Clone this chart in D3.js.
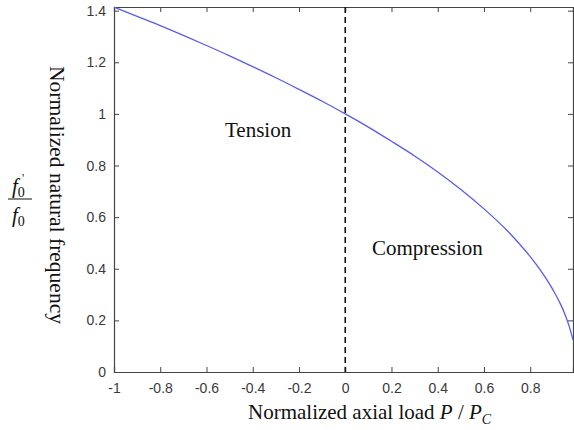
<!DOCTYPE html>
<html>
<head>
<meta charset="utf-8">
<script src="https://cdn.jsdelivr.net/npm/d3@7"></script>
<style>
  body { margin: 0; background: #fff; }
  .tick text { font-family: "Liberation Sans", Arial, sans-serif; font-size: 14px; fill: #3a3a3a; }
  .axis path, .axis line { stroke: #444; }
  .serif { font-family: "Liberation Serif", "Times New Roman", serif; fill: #111; }
</style>
</head>
<body>
<div id="chart"></div>
<script>
// curve points (P/Pc, f0'/f0)
const loadRatio = [-1, -0.9, -0.8, -0.7, -0.6, -0.5, -0.4, -0.3, -0.2, -0.1, 0, 0.1, 0.2, 0.3, 0.4, 0.5, 0.6, 0.7, 0.75, 0.8, 0.85, 0.9, 0.93, 0.95, 0.97, 0.985];
const freqRatio = [1.414, 1.378, 1.342, 1.304, 1.265, 1.225, 1.183, 1.140, 1.095, 1.049, 1.0, 0.949, 0.894, 0.837, 0.775, 0.707, 0.632, 0.548, 0.5, 0.447, 0.387, 0.316, 0.265, 0.224, 0.173, 0.125];

const xTicks = [-1, -0.8, -0.6, -0.4, -0.2, 0, 0.2, 0.4, 0.6, 0.8];
const yTicks = [0, 0.2, 0.4, 0.6, 0.8, 1, 1.2, 1.4];

const width = 574;
const height = 430;
const margin = { top: 7, right: 1, bottom: 58, left: 114 };
const w = width - margin.left - margin.right;
const h = height - margin.top - margin.bottom;

const svg = d3.select("#chart")
    .append("svg")
    .attr("width", width)
    .attr("height", height);

const g = svg.append("g")
    .attr("transform", `translate(${margin.left},${margin.top})`);

const x = d3.scaleLinear().domain([-1, 0.985]).range([0, w]);
const y = d3.scaleLinear().domain([0, 1.4142]).range([h, 0]);

// axes, ticks pointing inward on all four sides
g.append("g")
    .attr("class", "axis")
    .attr("transform", `translate(0,${h})`)
    .call(d3.axisBottom(x).tickValues(xTicks).tickSize(-5).tickPadding(11).tickFormat(d => String(d)));

g.append("g")
    .attr("class", "axis")
    .call(d3.axisLeft(y).tickValues(yTicks).tickSize(-5).tickPadding(8).tickFormat(d => String(d)));

g.append("g")
    .attr("class", "axis")
    .call(d3.axisTop(x).tickValues(xTicks).tickSize(-5).tickFormat(""));

g.append("g")
    .attr("class", "axis")
    .attr("transform", `translate(${w},0)`)
    .call(d3.axisRight(y).tickValues(yTicks).tickSize(-5).tickFormat(""));

g.selectAll(".axis path").attr("stroke-width", 1.2);

// dashed line at P = 0
g.append("line")
    .attr("x1", x(0)).attr("x2", x(0))
    .attr("y1", 0).attr("y2", h)
    .attr("stroke", "#111")
    .attr("stroke-width", 1.6)
    .attr("stroke-dasharray", "6,4");

const pts = loadRatio.map((d, i) => ({ p: d, f: freqRatio[i] }));

const line = d3.line()
    .x(d => x(d.p))
    .y(d => y(d.f))
    .curve(d3.curveMonotoneX);

g.append("path")
    .datum(pts)
    .attr("fill", "none")
    .attr("stroke", "#5a5af0")
    .attr("stroke-width", 1.3)
    .attr("d", line);

// region labels
svg.append("text").attr("class", "serif")
    .attr("x", 225).attr("y", 137)
    .style("font-size", "21px")
    .text("Tension");

svg.append("text").attr("class", "serif")
    .attr("x", 372).attr("y", 255)
    .style("font-size", "21px")
    .text("Compression");

// x axis title
const xt = svg.append("text").attr("class", "serif")
    .attr("x", 248).attr("y", 419)
    .style("font-size", "21px");
xt.append("tspan").text("Normalized axial load ");
xt.append("tspan").style("font-style", "italic").text("P");
xt.append("tspan").text(" / ");
xt.append("tspan").style("font-style", "italic").text("P");
xt.append("tspan").attr("dy", 5).style("font-size", "14px").style("font-style", "italic").text("C");

// y axis title, reads top to bottom
svg.append("text").attr("class", "serif")
    .attr("transform", "translate(50,195) rotate(90)")
    .attr("text-anchor", "middle")
    .style("font-size", "21.5px")
    .text("Normalized natural frequency");

// fraction f0' / f0
const fr = svg.append("g").attr("class", "serif");
const num = fr.append("text").attr("x", 12).attr("y", 193).style("font-size", "21px");
num.append("tspan").style("font-style", "italic").text("f");
num.append("tspan").attr("dy", 4).style("font-size", "14px").text("0");
fr.append("text").attr("x", 22).attr("y", 182).style("font-size", "12px").text("'");
fr.append("line")
    .attr("x1", 8).attr("x2", 32)
    .attr("y1", 199).attr("y2", 199)
    .attr("stroke", "#111").attr("stroke-width", 1);
const den = fr.append("text").attr("x", 12).attr("y", 222).style("font-size", "21px");
den.append("tspan").style("font-style", "italic").text("f");
den.append("tspan").attr("dy", 4).style("font-size", "14px").text("0");
</script>
</body>
</html>
